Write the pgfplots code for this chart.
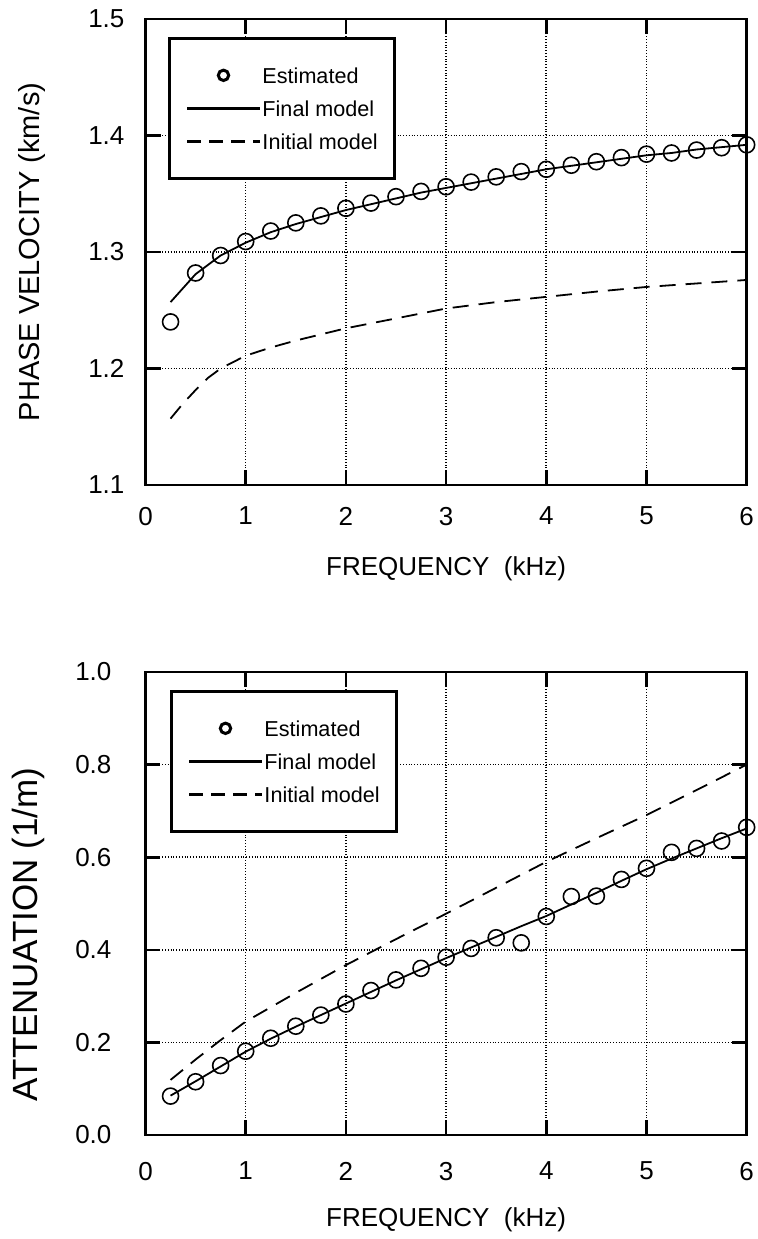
\documentclass[border=0pt]{standalone}
\usepackage{fontspec}
\setmainfont{Liberation Sans}
\usepackage{pgfplots}
\pgfplotsset{compat=1.18}

\begin{document}
\fontsize{13}{15}\selectfont
\begin{tikzpicture}
\useasboundingbox (0,0) rectangle (378.5pt,619.5pt);
\pgfplotsset{
  common/.style={
    width=300.6pt, scale only axis,
    xmin=0, xmax=6, xtick={0,1,2,3,4,5,6},
    grid=major,
    major grid style={densely dotted, line width=0.8pt, black},
    axis line style={line width=1.3pt},
    every tick/.style={line width=1.3pt, black},
    major tick length=7.5pt,
    tick align=inside,
    tick label style={font=\fontsize{13}{15}\selectfont},
    /pgf/number format/assume math mode=true,
    xlabel={FREQUENCY\ \ (kHz)},
    xlabel style={font=\fontsize{13}{15}\selectfont, anchor=center},
    ylabel style={anchor=center},
    legend cell align=left,
    legend style={draw, line width=1.5pt,
      at={(axis description cs:0,1)}, anchor=north west,
      font=\fontsize{10.8}{13}\selectfont,
      inner xsep=8pt, inner ysep=14.5pt,
      row sep=8.75pt,
      nodes={inner xsep=0.5pt, inner ysep=0pt, text depth=0pt}},
  },
  est/.style={only marks, mark=o, mark size=4pt, black, mark options={line width=0.8pt}},
  estleg/.style={black, solid,
    legend image code/.code={\draw[white, solid, line width=0.1pt] (0pt,0pt) -- (36.5pt,0pt);
      \draw[black, solid, line width=1.5pt] (18.25pt,0pt) circle[radius=2.6pt];}},
  fin/.style={black, line width=0.9pt, no marks,
    legend image code/.code={\draw[black, line width=1.1pt] (0pt,0pt) -- (36.5pt,0pt);}},
  ini/.style={black, line width=0.9pt, no marks, dash pattern=on 8pt off 5pt,
    legend image code/.code={\draw[black, line width=1.5pt, dash pattern=on 7pt off 4pt] (0pt,0pt) -- (36.5pt,0pt);}},
}

% ---------------- top panel ----------------
\begin{axis}[common,
  at={(72.75pt,377pt)}, anchor=south west,
  height=233pt,
  ymin=1.1, ymax=1.5, ytick={1.1,1.2,1.3,1.4,1.5},
  xticklabel style={yshift=-6.5pt},
  yticklabel style={xshift=-6pt, /pgf/number format/fixed, /pgf/number format/fixed zerofill, /pgf/number format/precision=1},
  xlabel style={at={(axis description cs:0.5,-0.180)}},
  ylabel={PHASE VELOCITY (km/s)},
  ylabel style={font=\fontsize{14.5}{16}\selectfont, at={(axis description cs:-0.188,0.5)}},
  legend style={xshift=11.25pt, yshift=-9pt},
]
\addlegendimage{estleg}
\addlegendentry{Estimated}
\addplot[est, forget plot] coordinates {
(0.25,1.240) (0.5,1.282) (0.75,1.297) (1.0,1.309) (1.25,1.318) (1.5,1.325)
(1.75,1.331) (2.0,1.3375) (2.25,1.342) (2.5,1.3475) (2.75,1.352) (3.0,1.356)
(3.25,1.360) (3.5,1.3645) (3.75,1.369) (4.0,1.371) (4.25,1.3745) (4.5,1.3775)
(4.75,1.381) (5.0,1.384) (5.25,1.385) (5.5,1.3875) (5.75,1.3895) (6.0,1.392)
};
\addplot[fin] coordinates {
(0.25,1.257) (0.5,1.281) (0.75,1.297) (1.0,1.308) (1.25,1.317) (1.5,1.324)
(1.75,1.330) (2.0,1.336) (2.25,1.341) (2.5,1.346) (2.75,1.351) (3.0,1.355)
(3.25,1.359) (3.5,1.363) (3.75,1.367) (4.0,1.371) (4.25,1.374) (4.5,1.377)
(4.75,1.380) (5.0,1.383) (5.25,1.385) (5.5,1.388) (5.75,1.390) (6.0,1.392)
};
\addlegendentry{Final model}
\addplot[ini] coordinates {
(0.25,1.157) (0.375,1.170) (0.5,1.1815) (0.625,1.192) (0.75,1.200) (1.0,1.211)
(1.25,1.218) (1.5,1.224) (2.0,1.2345) (2.5,1.243) (3.0,1.2515) (3.5,1.257)
(4.0,1.2615) (4.5,1.266) (5.0,1.270) (5.5,1.273) (6.0,1.276)
};
\addlegendentry{Initial model}
\end{axis}

% ---------------- bottom panel ----------------
\begin{axis}[common,
  at={(72.75pt,52pt)}, anchor=south west,
  height=231.5pt,
  ymin=0, ymax=1, ytick={0,0.2,0.4,0.6,0.8,1.0},
  xticklabel style={yshift=-9pt},
  yticklabel style={xshift=-12.5pt, /pgf/number format/fixed, /pgf/number format/fixed zerofill, /pgf/number format/precision=1},
  xlabel style={at={(axis description cs:0.5,-0.184)}},
  ylabel={ATTENUATION (1/m)},
  ylabel style={font=\fontsize{17.5}{19}\selectfont, at={(axis description cs:-0.195,0.433)}},
  legend style={xshift=12.25pt, yshift=-9pt},
]
\addlegendimage{estleg}
\addlegendentry{Estimated}
\addplot[est, forget plot] coordinates {
(0.25,0.084) (0.5,0.115) (0.75,0.150) (1.0,0.181) (1.25,0.209) (1.5,0.235)
(1.75,0.259) (2.0,0.283) (2.25,0.312) (2.5,0.335) (2.75,0.360) (3.0,0.384)
(3.25,0.403) (3.5,0.426) (3.75,0.415) (4.0,0.472) (4.25,0.515) (4.5,0.516)
(4.75,0.552) (5.0,0.576) (5.25,0.6105) (5.5,0.619) (5.75,0.635) (6.0,0.6645)
};
\addplot[fin] coordinates {
(0.25,0.085) (0.5,0.116) (0.75,0.148) (1.0,0.180) (1.25,0.208) (1.5,0.234)
(1.75,0.259) (2.0,0.284) (2.25,0.309) (2.5,0.334) (2.75,0.358) (3.0,0.382)
(3.25,0.405) (3.5,0.428) (3.75,0.451) (4.0,0.473) (4.25,0.498) (4.5,0.523)
(4.75,0.549) (5.0,0.574) (5.25,0.597) (5.5,0.619) (5.75,0.641) (6.0,0.662)
};
\addlegendentry{Final model}
\addplot[ini] coordinates {
(0.25,0.119) (0.5,0.163) (0.75,0.205) (1.0,0.245) (1.5,0.307) (2.0,0.367)
(2.5,0.423) (3.0,0.478) (3.5,0.534) (4.0,0.590) (4.5,0.641) (5.0,0.691)
(5.5,0.745) (6.0,0.800)
};
\addlegendentry{Initial model}
\end{axis}
\end{tikzpicture}
\end{document}
